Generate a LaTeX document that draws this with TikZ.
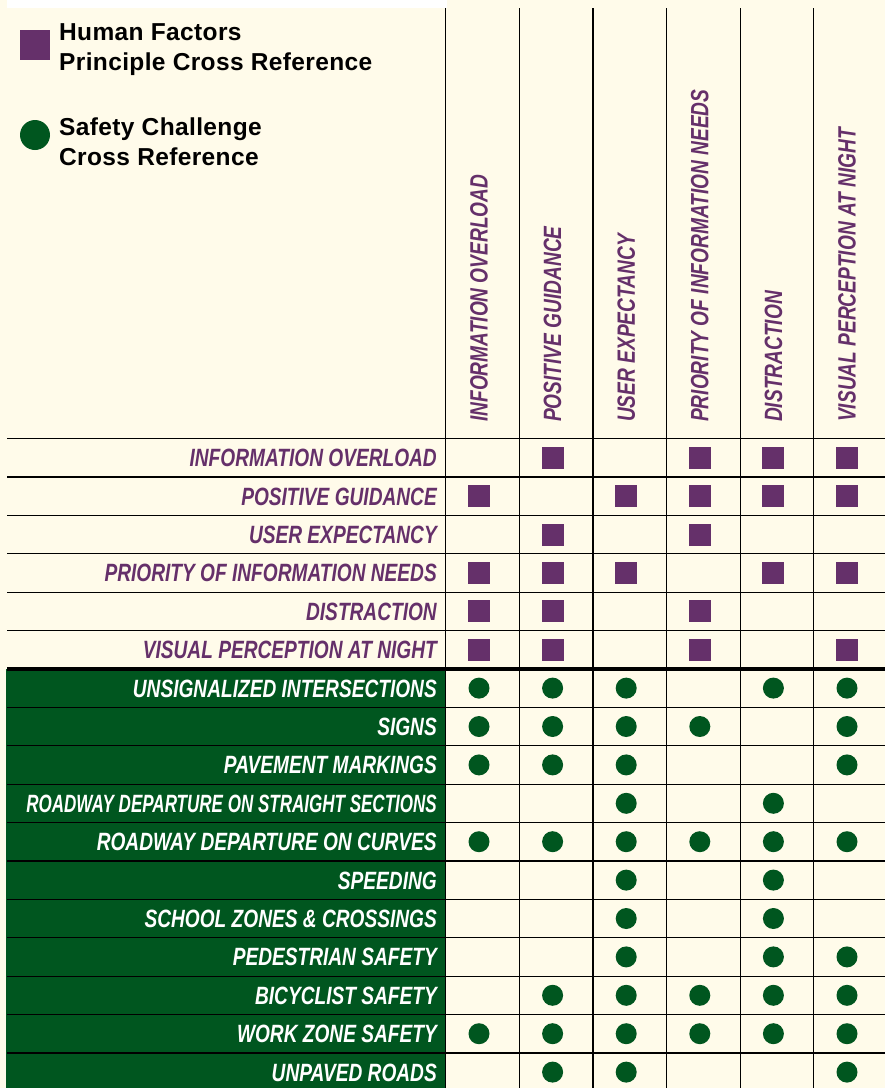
\documentclass[tikz,border=0pt]{standalone}
\usepackage{fontspec}
\setmainfont{Liberation Sans}
\newfontfamily\tabfont[FakeStretch=0.765]{Liberation Sans}
\newfontfamily\legfont[LetterSpace=1.5]{Liberation Sans}
\usepackage{tikz}
\usetikzlibrary{shapes.geometric}

\definecolor{cream}{HTML}{FFFBEA}
\definecolor{hfpurple}{HTML}{65306A}
\definecolor{scgreen}{HTML}{00561F}

\tikzset{
	gridline/.style={line width=1.2pt, black},
	rowtext/.style={anchor=base east, inner sep=0pt, text=hfpurple, font=\tabfont\bfseries\itshape\fontsize{25}{30}\selectfont},
	sctext/.style={rowtext, text=white},
	coltext/.style={anchor=west, rotate=90, inner sep=0pt, text=hfpurple, font=\tabfont\bfseries\itshape\fontsize{25}{30}\selectfont},
	hfmark/.style={rectangle, fill=hfpurple, minimum size=22pt, inner sep=0pt},
	scmark/.style={circle, fill=scgreen, minimum size=21pt, inner sep=0pt},
	legendtext/.style={anchor=north west, inner sep=0pt, align=left, font=\legfont\bfseries\fontsize{24.5}{30}\selectfont}
}

\begin{document}
\begin{tikzpicture}[x=1pt, y=-1pt]
			% Background and bands:
			\fill[cream] (0, 0) rectangle (885, 1088);
			\fill[white] (7, 0) rectangle (447, 8);
			\useasboundingbox (0, 0) rectangle (885, 1088);
			\fill[scgreen] (6, 669) rectangle (446, 1088);
			% Legend:
			\node[hfmark, minimum size=30pt](LgSq) at (35, 44.5){};
			\node[legendtext](LgHF) at (59, 23){Human Factors\\Principle Cross Reference};
			\node[scmark, minimum size=30pt](LgCirc) at (35, 135){};
			\node[legendtext](LgSC) at (59, 118){Safety Challenge\\Cross Reference};
			% Grid:
			\foreach \k in {1,...,16}
				\draw[gridline] (7, 438.5+38.4*\k) -- (885, 438.5+38.4*\k);
			\draw[gridline] (7, 438.5) -- (885, 438.5);
			\draw[line width=3.5pt] (7, 669) -- (885, 669);
			\foreach \j in {0,...,5}
				\draw[gridline] (445.7+73.6*\j, 8) -- (445.7+73.6*\j, 1088);
			% Column headers:
			\foreach \j/\txt in {1/INFORMATION OVERLOAD, 2/POSITIVE GUIDANCE, 3/USER EXPECTANCY, 4/PRIORITY OF INFORMATION NEEDS, 5/DISTRACTION, 6/VISUAL PERCEPTION AT NIGHT}
				\node[coltext](H\j) at (445.7+73.6*\j-40.3, 422){\txt};
			% Human factors rows:
			\foreach \i/\txt in {1/INFORMATION OVERLOAD, 2/POSITIVE GUIDANCE, 3/USER EXPECTANCY, 4/PRIORITY OF INFORMATION NEEDS, 5/DISTRACTION, 6/VISUAL PERCEPTION AT NIGHT}
				\node[rowtext](R\i) at (437, 438.5+38.4*\i-19.2+9){\txt};
			% Safety challenge rows:
			\foreach \i/\txt in {7/UNSIGNALIZED INTERSECTIONS, 8/SIGNS, 9/PAVEMENT MARKINGS, 10/\scalebox{0.89}[1]{ROADWAY DEPARTURE ON STRAIGHT SECTIONS}, 11/ROADWAY DEPARTURE ON CURVES, 12/SPEEDING, 13/SCHOOL ZONES \& CROSSINGS, 14/PEDESTRIAN SAFETY, 15/BICYCLIST SAFETY, 16/WORK ZONE SAFETY, 17/UNPAVED ROADS}
				\node[sctext](R\i) at (437, 438.5+38.4*\i-19.2+9){\txt};
			% Squares:
			\foreach \i/\cols in {1/{2,4,5,6}, 2/{1,3,4,5,6}, 3/{2,4}, 4/{1,2,3,5,6}, 5/{1,2,4}, 6/{1,2,4,6}}
				\foreach \j in \cols
					\node[hfmark](M\i-\j) at (445.7+73.6*\j-40.3, 438.5+38.4*\i-19.2){};
			% Dots:
			\foreach \i/\cols in {7/{1,2,3,5,6}, 8/{1,2,3,4,6}, 9/{1,2,3,6}, 10/{3,5}, 11/{1,2,3,4,5,6}, 12/{3,5}, 13/{3,5}, 14/{3,5,6}, 15/{2,3,4,5,6}, 16/{1,2,3,4,5,6}, 17/{2,3,6}}
				\foreach \j in \cols
					\node[scmark](M\i-\j) at (445.7+73.6*\j-40.3, 438.5+38.4*\i-19.2){};
		\end{tikzpicture}
\end{document}
